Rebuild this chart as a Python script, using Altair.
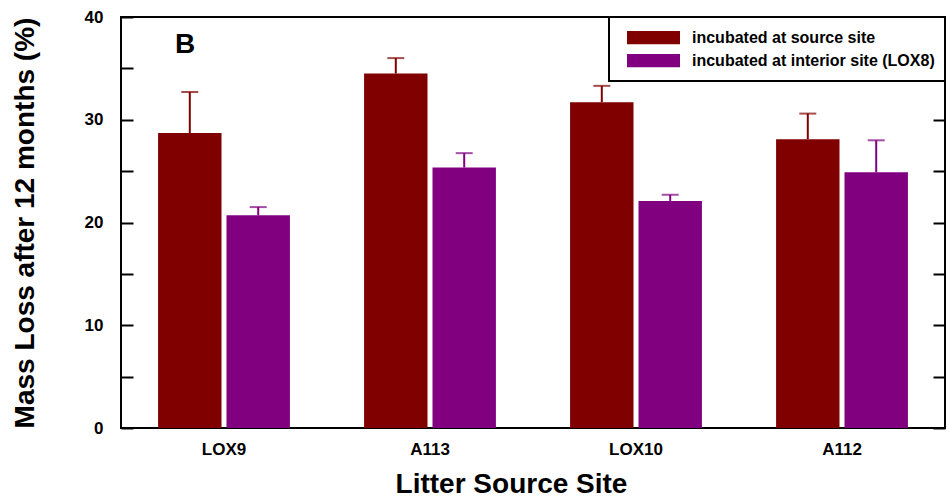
import altair as alt
import pandas as pd

# ---- data ----
sites = ["LOX9", "A113", "LOX10", "A112"]
series_names = ["incubated at source site", "incubated at interior site (LOX8)"]
source_mean = [28.7, 34.5, 31.7, 28.1]
source_err = [4.0, 1.5, 1.6, 2.5]
interior_mean = [20.7, 25.35, 22.1, 24.9]
interior_err = [0.8, 1.4, 0.6, 3.1]
colors = ["#800000", "#800080"]
y_ticks = [0, 5, 10, 15, 20, 25, 30, 35, 40]
panel_label = "B"

FONT = "Liberation Sans"

rows = []
for i, s in enumerate(sites):
    rows.append({"site": s, "series": series_names[0], "value": source_mean[i],
                 "upper": source_mean[i] + source_err[i]})
    rows.append({"site": s, "series": series_names[1], "value": interior_mean[i],
                 "upper": interior_mean[i] + interior_err[i]})
df = pd.DataFrame(rows)

x_enc = alt.X(
    "site:N", sort=sites,
    scale=alt.Scale(paddingInner=0.36, paddingOuter=0.18),
    axis=alt.Axis(
        title="Litter Source Site", ticks=False, domain=False, labelAngle=0,
        labelFont=FONT, labelFontSize=17, labelFontWeight="bold", labelColor="black",
        labelPadding=13,
        titleFont=FONT, titleFontSize=28, titleFontWeight="bold", titleColor="black",
        titleX=390, titleY=64, titleBaseline="alphabetic", titleAlign="center",
    ),
)
xoff_enc = alt.XOffset("series:N", sort=series_names, scale=alt.Scale(paddingInner=0.073))
y_scale = alt.Scale(domain=[0, 40], nice=False)

color_legend = alt.Legend(
    title=None, orient="top-right", offset=0,
    symbolType="M-1,-0.25H1V0.25H-1Z", symbolSize=2809, symbolStrokeWidth=0,
    clipHeight=21, padding=10, symbolOffset=8, labelOffset=12,
    labelFont=FONT, labelFontSize=16, labelFontWeight="bold", labelColor="black",
    labelLimit=500, strokeColor="black", fillColor="white",
)
color_scale = alt.Scale(domain=series_names, range=colors)

base = alt.Chart(df)

bars = base.mark_bar().encode(
    x=x_enc,
    xOffset=xoff_enc,
    y=alt.Y(
        "value:Q", scale=y_scale,
        axis=alt.Axis(
            values=y_ticks, labelExpr="datum.value % 10 === 0 ? datum.label : ''",
            tickSize=12, tickWidth=2, tickColor="black", domain=False, grid=False,
            offset=-12, labelPadding=18,
            labelFont=FONT, labelFontSize=17, labelFontWeight="bold", labelColor="black",
            title="Mass Loss after 12 months (%)",
            titleFont=FONT, titleFontSize=28, titleFontWeight="bold", titleColor="black",
            titleX=-100, titleBaseline="alphabetic",
        ),
    ),
    color=alt.Color("series:N", scale=color_scale, legend=color_legend),
)

err = base.mark_rule(strokeWidth=2).encode(
    x=alt.X("site:N", sort=sites),
    xOffset=xoff_enc,
    y=alt.Y("value:Q", scale=y_scale, axis=None),
    y2="upper:Q",
    color=alt.Color("series:N", scale=color_scale, legend=None),
)

caps = base.mark_tick(thickness=2, size=17, orient="horizontal").encode(
    x=alt.X("site:N", sort=sites),
    xOffset=xoff_enc,
    y=alt.Y(
        "upper:Q", scale=y_scale,
        axis=alt.Axis(
            orient="right", values=y_ticks, labels=False, tickSize=12, tickWidth=2,
            tickColor="black", domain=False, grid=False, offset=-12, title=None,
        ),
    ),
    color=alt.Color("series:N", scale=color_scale, legend=None),
)

label = alt.Chart(pd.DataFrame({"label": [panel_label]})).mark_text(
    font=FONT, fontSize=28, fontWeight="bold", color="black",
    align="left", baseline="alphabetic",
).encode(text="label:N", x=alt.value(54), y=alt.value(36))

chart = (
    alt.layer(bars, err, caps, label)
    .resolve_scale(y="shared")
    .resolve_axis(y="independent")
    .properties(
        width=824, height=411,
        autosize=alt.AutoSizeParams(type="none"),
        padding={"left": 121, "top": 17, "right": 5, "bottom": 70},
        background="white",
    )
    .configure_view(stroke="black", strokeWidth=2)
    .configure_legend(strokeWidth=2)
)

chart.save("out.html", embed_options={"renderer": "svg", "actions": False})
